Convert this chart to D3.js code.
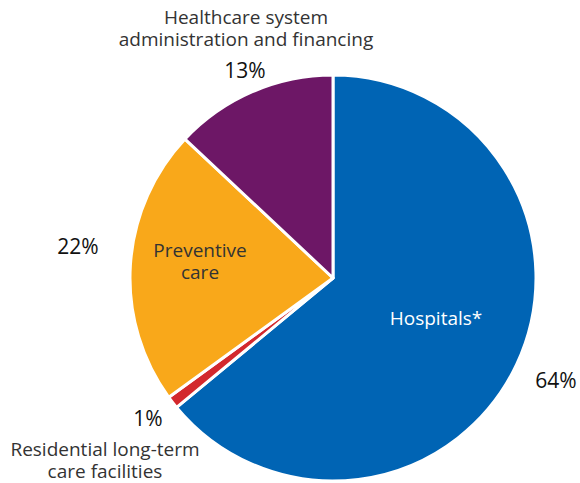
<!DOCTYPE html>
<html><head><meta charset="utf-8">
<script src="https://cdn.jsdelivr.net/npm/d3@7"></script>
<style>body{margin:0;background:#fff}svg{display:block}text{font-family:"Open Sans",Roboto,sans-serif}</style>
</head><body><svg id="c" width="580" height="483"></svg>
<script>
const categories = ["Hospitals*", "Residential long-term care facilities", "Preventive care", "Healthcare system administration and financing"];
const values = [64, 1, 22, 13];
const colors = ["#0064b4", "#d3282d", "#f9a81a", "#6d1766"];

const svg = d3.select("#c");
const cx = 333, cy = 278, R = 203;
const pie = d3.pie().sort(null).value(d => d)(values);
const arc = d3.arc().innerRadius(0).outerRadius(R);
const g = svg.append("g").attr("transform", `translate(${cx},${cy})`);
g.selectAll("path").data(pie).join("path")
  .attr("d", arc).attr("fill", (d,i) => colors[i])
  .attr("stroke", "#fff").attr("stroke-width", 3).attr("stroke-linejoin","round");

const labels = [
  {lines:["Healthcare system","administration and financing"], x:246, y:24, fill:"#333"},
  {lines:[values[3]+"%"], x:245, y:78, fill:"#111", size:21},
  {lines:[values[2]+"%"], x:78, y:254, fill:"#111", size:21},
  {lines:["Preventive","care"], x:200, y:257, fill:"#333"},
  {lines:["Hospitals*"], x:436, y:325, fill:"#fff"},
  {lines:[values[0]+"%"], x:556, y:388, fill:"#111", size:21},
  {lines:[values[1]+"%"], x:148, y:426, fill:"#111", size:21},
  {lines:["Residential long-term","care facilities"], x:105, y:456, fill:"#333"}
];
labels.forEach(l => {
  const t = svg.append("text").attr("x", l.x).attr("y", l.y).attr("text-anchor","middle")
    .attr("fill", l.fill).attr("font-size", l.size || 19);
  l.lines.forEach((s,i) => t.append("tspan").attr("x", l.x).attr("dy", i ? 21.5 : 0).text(s));
});
</script></body></html>
